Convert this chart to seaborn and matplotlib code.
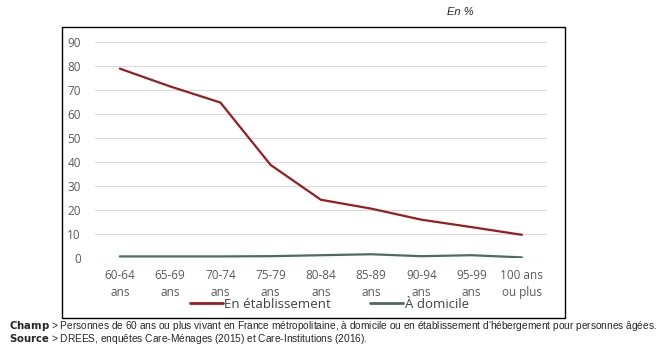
import matplotlib
matplotlib.use("Agg")
import matplotlib.pyplot as plt
import seaborn as sns
import pandas as pd
from matplotlib.patches import Rectangle
from matplotlib.lines import Line2D

# données (en %)
ages = ["60-64\nans", "65-69\nans", "70-74\nans", "75-79\nans", "80-84\nans",
        "85-89\nans", "90-94\nans", "95-99\nans", "100 ans\nou plus"]
etablissement = [78.9, 71.5, 64.8, 38.8, 24.3, 20.6, 16.0, 12.9, 9.7]
domicile = [0.7, 0.7, 0.7, 0.8, 1.2, 1.6, 0.8, 1.2, 0.3]

df = pd.DataFrame({
    "age": ages * 2,
    "x": list(range(len(ages))) * 2,
    "val": etablissement + domicile,
    "serie": ["En établissement"] * len(ages) + ["À domicile"] * len(ages),
})

sns.set_style("white")
plt.rcParams["font.family"] = ["Open Sans", "DejaVu Sans"]

fig = plt.figure(figsize=(6.72, 3.56), dpi=100)
ax = fig.add_axes([0.141, 0.275, 0.673, 0.607])

sns.lineplot(data=df, x="x", y="val", hue="serie",
             palette={"En établissement": "#9b1c1c", "À domicile": "#4d6b5f"},
             linewidth=1.6, ax=ax, legend=False)

ax.set_xlim(-0.5, 8.5)
ax.set_ylim(0, 90)
ax.set_yticks(range(0, 91, 10))
ax.set_xticks(range(len(ages)))
ax.set_xticklabels(ages, fontsize=8.5, color="#595959", linespacing=1.35)
ax.tick_params(axis="y", labelsize=8.5, labelcolor="#595959", length=0, pad=10)
ax.tick_params(axis="x", length=0, pad=8)
ax.yaxis.grid(True, color="#d9d9d9", linewidth=0.8)
ax.set_axisbelow(True)
for s in ax.spines.values():
    s.set_visible(False)
ax.set_xlabel("")
ax.set_ylabel("")

# légende
handles = [Line2D([], [], color="#9b1c1c", lw=2), Line2D([], [], color="#4d6b5f", lw=2)]
fig.legend(handles, ["En établissement", "À domicile"], loc="center",
           bbox_to_anchor=(0.49, 1 - 304 / 356), ncol=2, frameon=False, fontsize=9.5,
           handlelength=2.5, handletextpad=0.1, columnspacing=3,
           labelcolor="#404040", borderpad=0)

# cadre
fig.patches.append(Rectangle((62 / 672, 1 - 318 / 356), 503 / 672, 291 / 356,
                             transform=fig.transFigure, fill=False,
                             edgecolor="black", linewidth=1))

fig.text(447 / 672, 1 - 12 / 356, "En %", fontsize=8, style="italic",
         family="Liberation Sans", va="center")

fig.text(9 / 672, 1 - 326 / 356,
         r"$\bf{Champ}$ > Personnes de 60 ans ou plus vivant en France métropolitaine, à domicile ou en établissement d'hébergement pour personnes âgées.",
         fontsize=7.3, family="Liberation Sans", va="center")
fig.text(9 / 672, 1 - 339 / 356,
         r"$\bf{Source}$ > DREES, enquêtes Care-Ménages (2015) et Care-Institutions (2016).",
         fontsize=7.3, family="Liberation Sans", va="center")

fig.savefig("out.png", dpi=100)
